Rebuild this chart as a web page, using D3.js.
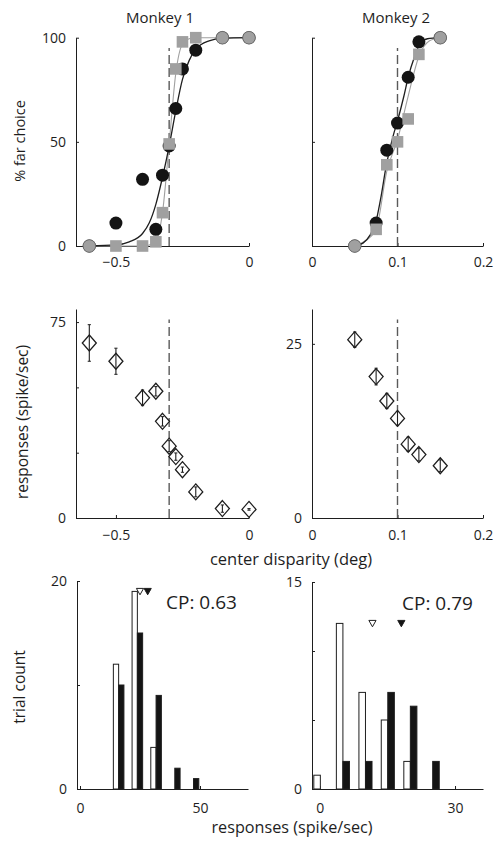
<!DOCTYPE html>
<html><head><meta charset="utf-8">
<script src="https://cdn.jsdelivr.net/npm/d3@7/dist/d3.min.js"></script>
<style>
html,body{margin:0;padding:0;background:#fff;}
svg{display:block;}
</style></head>
<body>
<script>
// ---------------- DATA ----------------
// Monkey 1 psychometric (center disparity, % far choice)
const m1Disp = [-0.6, -0.5, -0.4, -0.35, -0.325, -0.3, -0.275, -0.25, -0.2, -0.1, 0];
const m1Black = [0, 11, 32, 8, 34, 48, 66, 85, 94, 100, 100];
const m1Gray = [0, 0, 0, 2, 16, 49, 85, 98, 100, 100, 100];
const m1BlackFitX = [-0.6, -0.5, -0.45, -0.4, -0.375, -0.35, -0.325, -0.3, -0.275, -0.25, -0.225, -0.2, -0.15, -0.1, 0];
const m1BlackFitY = [0, 0.5, 2, 6, 11, 20, 33, 48, 65, 80, 89, 94.5, 98.5, 99.7, 100];
const m1GrayFitX = [-0.6, -0.4, -0.375, -0.35, -0.325, -0.3, -0.275, -0.25, -0.225, -0.2, 0];
const m1GrayFitY = [0, 0, 0.5, 2.5, 16, 49, 83, 97, 99.5, 100, 100];
// Monkey 2 psychometric
const m2Disp = [0.05, 0.075, 0.0875, 0.1, 0.1125, 0.125, 0.15];
const m2Black = [0, 11, 46, 59, 81, 98, 100];
const m2Gray = [0, 8, 39, 50, 61, 92, 100];
const m2BlackFitX = [0.05, 0.06, 0.0675, 0.075, 0.08, 0.0875, 0.095, 0.1, 0.1075, 0.1125, 0.12, 0.125, 0.135, 0.15];
const m2BlackFitY = [0, 1.5, 5, 12, 22, 40, 53, 60, 72, 81, 91, 96, 99.5, 100];
const m2GrayFitX = [0.05, 0.0625, 0.075, 0.0875, 0.1, 0.1125, 0.125, 0.1375, 0.15];
const m2GrayFitY = [0, 2.5, 8, 36, 51, 72, 91, 98.5, 100];
// Neuronal responses (spike/sec) with error bars
const m1Resp = [67, 60, 46, 48.5, 37, 27.5, 23.5, 18.5, 10, 3.6, 3.3];
const m1Err = [7, 5, 3, 1.8, 1.8, 2.1, 1.4, 1.0, 1.9, 1.4, 0.3];
const m2Resp = [25.6, 20.3, 16.8, 14.3, 10.6, 9.1, 7.5];
const m2Err = [1.1, 1.2, 1.1, 1.0, 1.0, 0.9, 0.85];
// reference (dashed) disparity
const refDisp = [-0.3, 0.1];
// Histograms (trial counts)
const h1Bins = [16.1, 23.9, 31.7, 39.5, 47.3];
const h1Near = [12, 19, 4, 0, 0];
const h1Far = [10, 15, 9, 2, 1];
const h1Means = [25, 28.2];   // open (near) and filled (far) triangles
const h1MeanLevel = 19;
const h2Bins = [0.15, 5.15, 10.15, 15.1, 20.1, 25.05];
const h2Near = [1, 12, 7, 5, 2, 0];
const h2Far = [0, 2, 2, 7, 6, 2];
const h2Means = [11.7, 18.1];
const h2MeanLevel = 12;
const cpLabels = ["CP: 0.63", "CP: 0.79"];
const titles = ["Monkey 1", "Monkey 2"];
// ticks
const xTicksLeft = [-0.5, 0];
const xTicksRight = [0, 0.1, 0.2];
const yTicksPsy = [0, 50, 100];
const yTicksResp1 = [0, 25, 50, 75], yLabResp1 = [0, 75];
const yTicksResp2 = [0, 25], yLabResp2 = [0, 25];
const xTicksH1 = [0, 50], xTicksH2 = [0, 30];
const yTicksH1 = [0, 10, 20], yLabH1 = [0, 20];
const yTicksH2 = [0, 5, 10, 15], yLabH2 = [0, 15];

// ---------------- DRAW ----------------
const W = 498, H = 843;
const FONT = "'Open Sans', 'Liberation Sans', Arial, sans-serif";
const INK = "#1e1e1e", GRAY = "#a0a0a0", DASH = "#5a5a5a";
const svg = d3.select("body").append("svg").attr("width", W).attr("height", H)
  .style("font-family", FONT);

function panel(xd, xr, yd, yr) {
  return { x: d3.scaleLinear().domain(xd).range(xr), y: d3.scaleLinear().domain(yd).range(yr) };
}
const P1 = panel([-0.65, 0], [76, 249], [0, 100], [246, 37.7]);
const P2 = panel([0, 0.2], [312, 483], [0, 100], [246, 37.7]);
const P3 = panel([-0.65, 0], [76, 249], [0, 80], [518, 309]);
const P4 = panel([0, 0.2], [312, 483], [0, 30], [518, 309]);
const P5 = panel([-1.25, 70], [77, 248], [0, 20], [789, 581]);
const P6 = panel([-1.7, 36.2], [312, 483], [0, 15], [789, 582]);

function fmt(v) { return d3.format("")(v).replace("-", "\u2212"); }

function axes(P, xt, yt, ylab, xpad) {
  const gx = svg.append("g").attr("transform", `translate(0,${P.y.range()[0]})`)
    .call(d3.axisBottom(P.x).tickValues(xt).tickSize(-3).tickSizeOuter(0).tickPadding(xpad)
      .tickFormat(v => fmt(v)));
  const gy = svg.append("g").attr("transform", `translate(${P.x.range()[0]},0)`)
    .call(d3.axisLeft(P.y).tickValues(yt).tickSize(-3).tickSizeOuter(0).tickPadding(10)
      .tickFormat(v => ylab && ylab.includes(v) ? fmt(v) : ""));
  [gx, gy].forEach(g => {
    g.selectAll("path,line").attr("stroke", INK).attr("stroke-width", 1);
    g.selectAll("text").attr("fill", INK).style("font-family", FONT).style("font-size", "14px");
  });
}

axes(P1, xTicksLeft, yTicksPsy, yTicksPsy, 11);
axes(P2, xTicksRight, yTicksPsy, null, 11);
axes(P3, xTicksLeft, yTicksResp1, yLabResp1, 12);
axes(P4, xTicksRight, yTicksResp2, yLabResp2, 12);
axes(P5, xTicksH1, yTicksH1, yLabH1, 14);
axes(P6, xTicksH2, yTicksH2, yLabH2, 14);

// dashed reference lines
[[P1, refDisp[0], 95], [P2, refDisp[1], 95], [P3, refDisp[0], 76], [P4, refDisp[1], 28.5]].forEach(([P, xv, top]) => {
  svg.append("line").attr("x1", P.x(xv)).attr("x2", P.x(xv))
    .attr("y1", P.y(0)).attr("y2", P.y(top))
    .attr("stroke", DASH).attr("stroke-width", 1.4).attr("stroke-dasharray", "9,4");
});

// psychometric panels
function psych(P, disp, blk, gry, bfx, bfy, gfx, gfy) {
  const line = d3.line().x(d => P.x(d[0])).y(d => P.y(d[1])).curve(d3.curveMonotoneX);
  svg.append("path").attr("d", line(d3.zip(gfx, gfy))).attr("fill", "none")
    .attr("stroke", GRAY).attr("stroke-width", 1.1);
  svg.append("path").attr("d", line(d3.zip(bfx, bfy))).attr("fill", "none")
    .attr("stroke", INK).attr("stroke-width", 1.3);
  const same = disp.map((d, i) => blk[i] === gry[i]);
  svg.append("g").selectAll("circle").data(disp).join("circle")
    .attr("cx", d => P.x(d)).attr("cy", (d, i) => P.y(blk[i])).attr("r", 6.5)
    .attr("fill", "#141414");
  svg.append("g").selectAll("rect").data(disp.filter((d, i) => !same[i])).join("rect")
    .attr("x", d => P.x(d) - 5.8)
    .attr("y", d => P.y(gry[disp.indexOf(d)]) - 5.8)
    .attr("width", 11.6).attr("height", 11.6).attr("fill", GRAY);
  svg.append("g").selectAll("circle").data(disp.filter((d, i) => same[i])).join("circle")
    .attr("cx", d => P.x(d)).attr("cy", d => P.y(gry[disp.indexOf(d)])).attr("r", 6.3)
    .attr("fill", GRAY).attr("stroke", "#6a6a6a").attr("stroke-width", 0.8);
}
psych(P1, m1Disp, m1Black, m1Gray, m1BlackFitX, m1BlackFitY, m1GrayFitX, m1GrayFitY);
psych(P2, m2Disp, m2Black, m2Gray, m2BlackFitX, m2BlackFitY, m2GrayFitX, m2GrayFitY);

// response panels
function resp(P, disp, r, e) {
  const g = svg.append("g");
  disp.forEach((d, i) => {
    const cx = P.x(d), cy = P.y(r[i]);
    g.append("path").attr("d", `M${cx},${cy - 8}L${cx + 7},${cy}L${cx},${cy + 8}L${cx - 7},${cy}Z`)
      .attr("fill", "#fff").attr("stroke", INK).attr("stroke-width", 1.3);
    const y1 = P.y(r[i] - e[i]), y2 = P.y(r[i] + e[i]);
    g.append("line").attr("x1", cx).attr("x2", cx).attr("y1", y1).attr("y2", y2)
      .attr("stroke", INK).attr("stroke-width", 1.1);
    [y1, y2].forEach(yy => g.append("line").attr("x1", cx - 1.6).attr("x2", cx + 1.6)
      .attr("y1", yy).attr("y2", yy).attr("stroke", INK).attr("stroke-width", 1));
  });
}
resp(P3, m1Disp, m1Resp, m1Err);
resp(P4, m2Disp, m2Resp, m2Err);

// histograms
function hist(P, bins, near, far, bw, means, lvl, cp, cpx, cpy) {
  const g = svg.append("g");
  bins.forEach((b, i) => {
    if (near[i] > 0) g.append("rect").attr("x", P.x(b - bw)).attr("y", P.y(near[i]))
      .attr("width", P.x(b) - P.x(b - bw)).attr("height", P.y(0) - P.y(near[i]))
      .attr("fill", "#fff").attr("stroke", INK).attr("stroke-width", 1);
    if (far[i] > 0) g.append("rect").attr("x", P.x(b)).attr("y", P.y(far[i]))
      .attr("width", P.x(b + bw) - P.x(b)).attr("height", P.y(0) - P.y(far[i]))
      .attr("fill", "#141414").attr("stroke", INK).attr("stroke-width", 1);
  });
  means.forEach((m, i) => {
    const cx = P.x(m), cy = P.y(lvl);
    g.append("path").attr("d", `M${cx - 3.6},${cy - 3}L${cx + 3.6},${cy - 3}L${cx},${cy + 3.4}Z`)
      .attr("fill", i === 0 ? "#fff" : "#141414").attr("stroke", INK).attr("stroke-width", 1);
  });
  svg.append("text").attr("x", cpx).attr("y", cpy).text(cp)
    .attr("fill", INK).style("font-size", "19px");
}
hist(P5, h1Bins, h1Near, h1Far, 2.2, h1Means, h1MeanLevel, cpLabels[0], 166, 609);
hist(P6, h2Bins, h2Near, h2Far, 1.45, h2Means, h2MeanLevel, cpLabels[1], 402, 610);

// titles and axis labels
function label(txt, x, y, size, rot) {
  const t = svg.append("text").text(txt).attr("text-anchor", "middle")
    .attr("fill", INK).style("font-size", size + "px");
  if (rot) t.attr("transform", `translate(${x},${y}) rotate(-90)`);
  else t.attr("x", x).attr("y", y);
}
label(titles[0], 160, 23, 15);
label(titles[1], 396, 23, 15);
label("% far choice", 25, 141, 14.5, true);
label("responses (spike/sec)", 28, 422, 15.5, true);
label("trial count", 25, 687, 15.5, true);
label("center disparity (deg)", 291, 565, 16.5);
label("responses (spike/sec)", 292, 833, 16.2);
</script>
</body></html>
